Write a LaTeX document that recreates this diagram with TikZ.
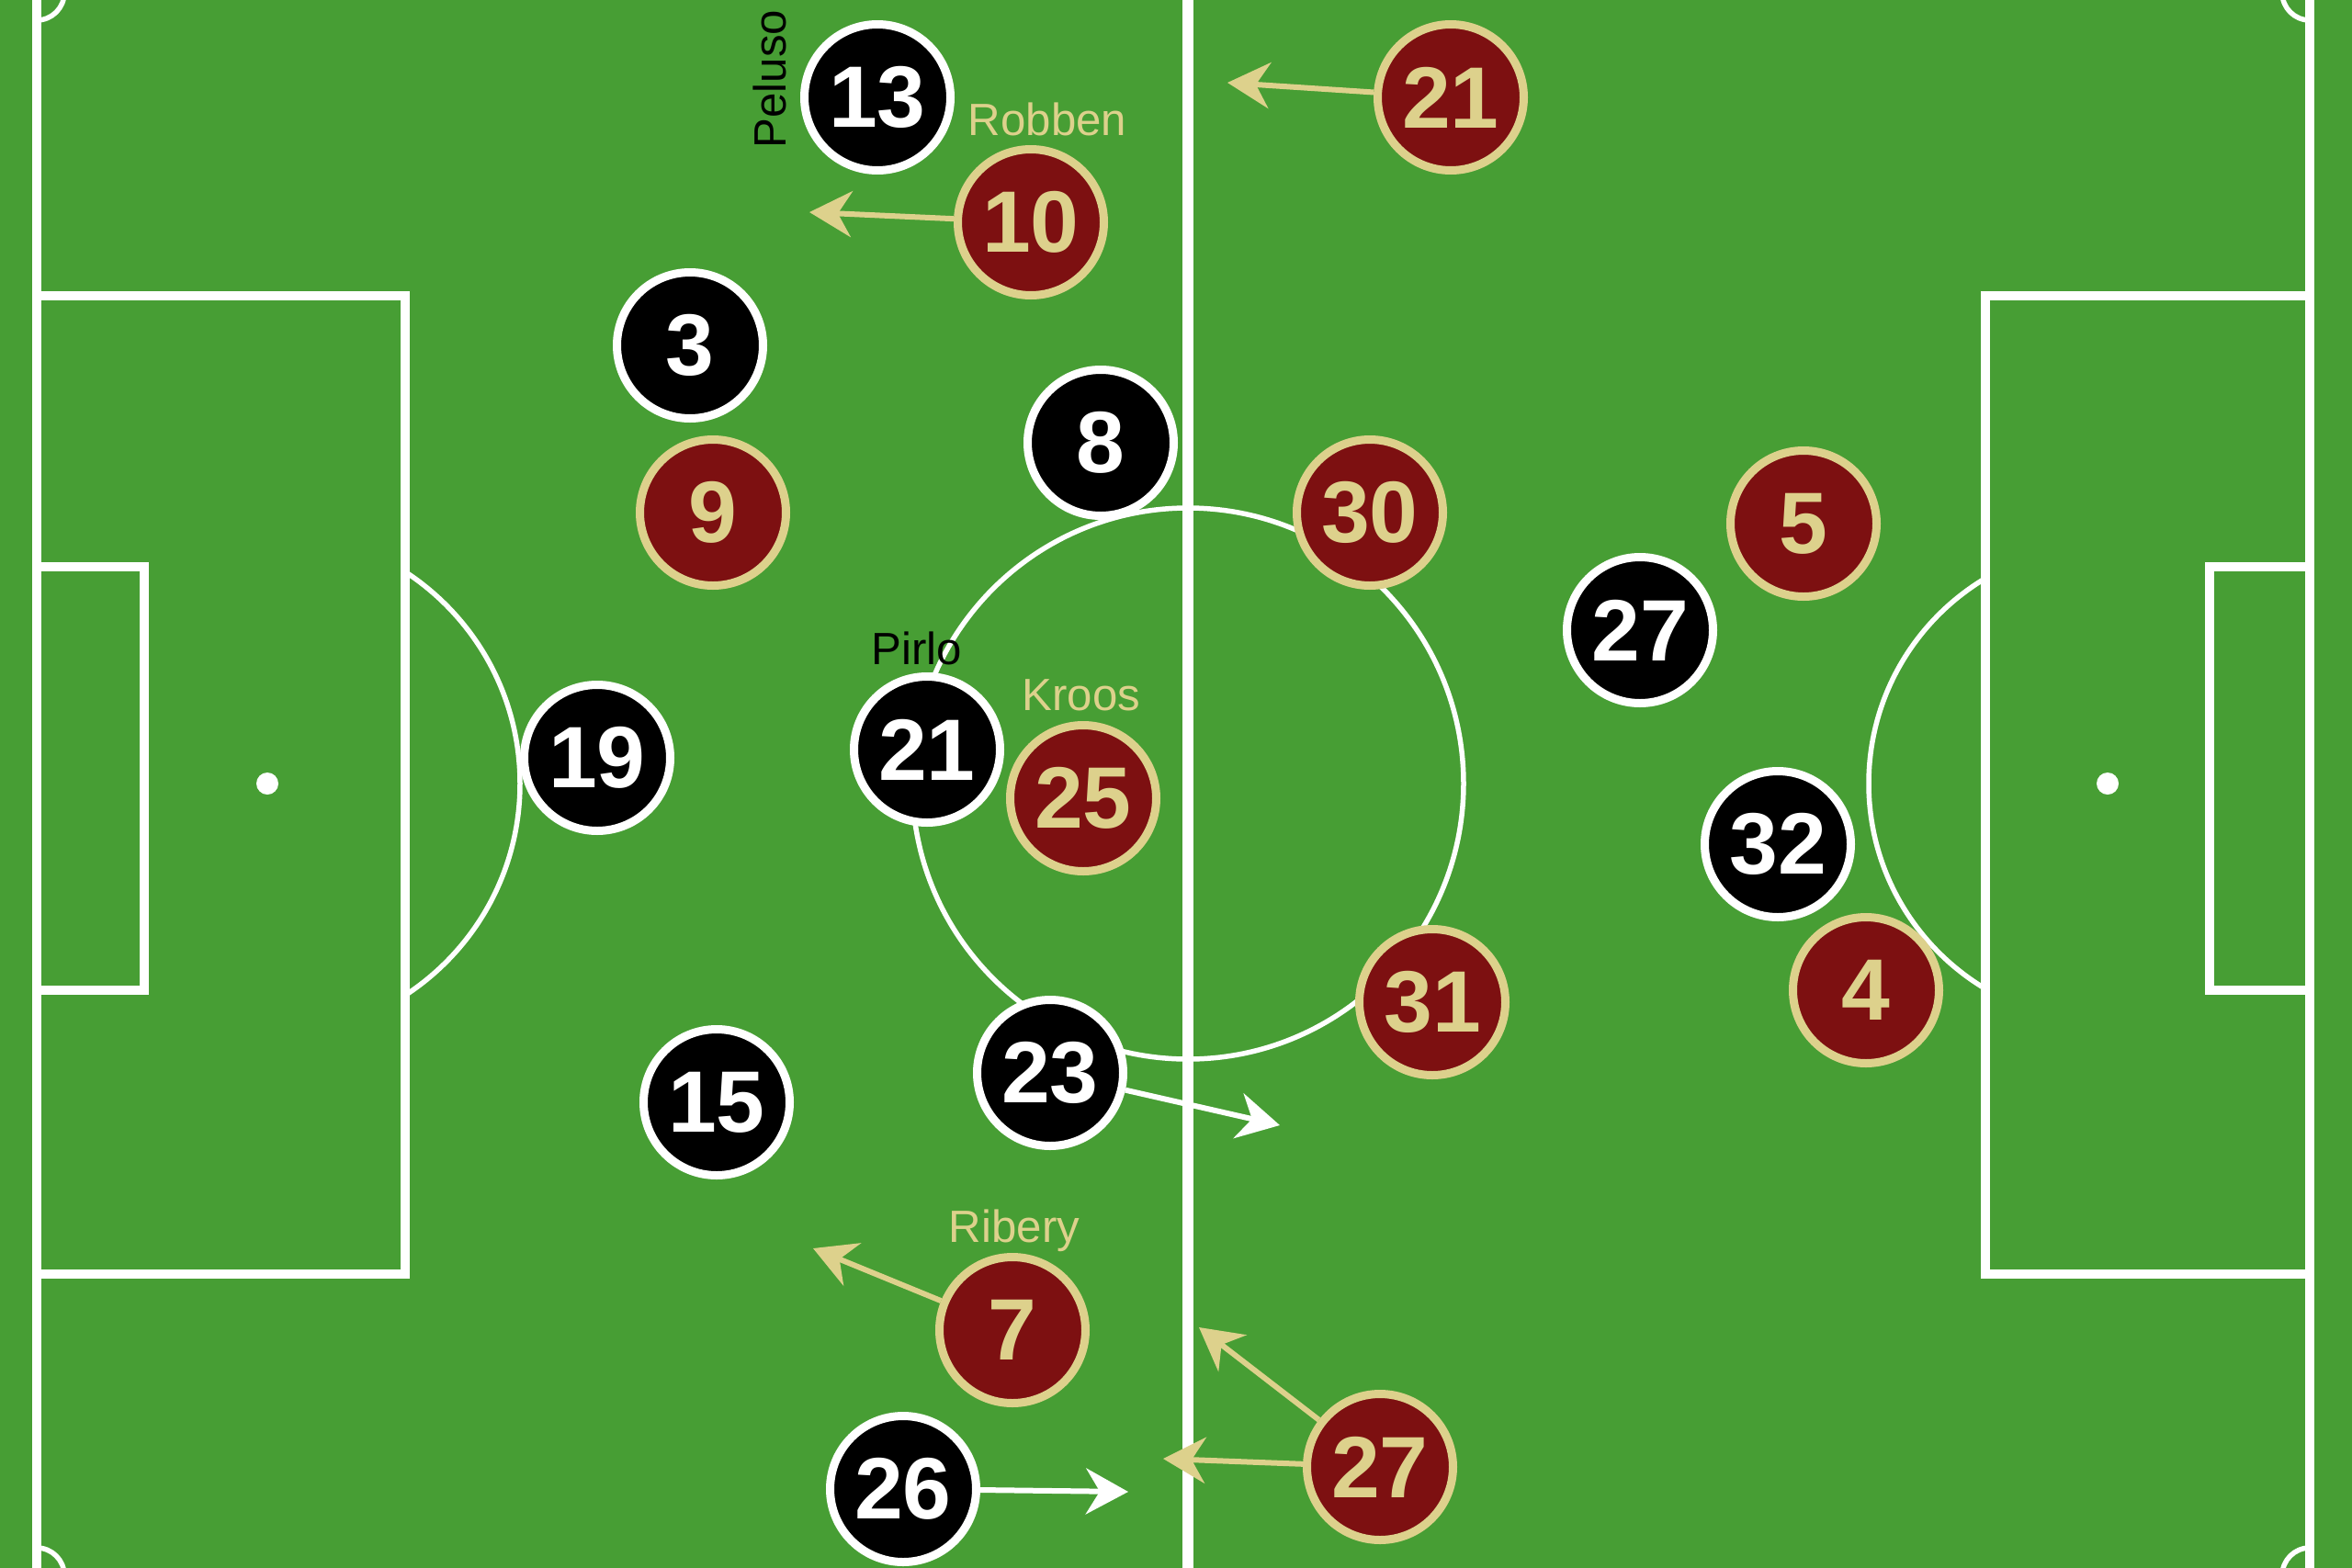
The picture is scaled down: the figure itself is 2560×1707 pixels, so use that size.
\documentclass[tikz,border=0pt]{standalone}
\usepackage{fontspec}
\setmainfont{Liberation Sans}
\usetikzlibrary{arrows.meta}

\definecolor{pitchgreen}{RGB}{71,158,52}
\definecolor{bayernred}{RGB}{125,16,17}
\definecolor{bayerngold}{RGB}{221,209,140}

\tikzset{
  pitchline/.style={white, line width=1mm},
  thinline/.style={white, line width=0.55mm},
  player/.style={circle, line width=0.9mm, minimum size=15.9mm, inner sep=0pt,
    font=\fontsize{27}{27}\selectfont\bfseries},
  blackplayer/.style={player, draw=white, fill=black, text=white},
  redplayer/.style={player, draw=bayerngold, fill=bayernred, text=bayerngold},
  namelabel/.style={font=\fontsize{14}{16}\selectfont, inner sep=0pt},
  whiterun/.style={white, line width=0.6mm, -{Stealth[length=4.6mm, width=5mm, inset=1.5mm]}},
  goldrun/.style={bayerngold, line width=0.6mm, -{Stealth[length=4.6mm, width=5mm, inset=1.5mm]}}
}

\begin{document}
\begin{tikzpicture}[x=0.1mm, y=-0.1mm]
    \fill[pitchgreen] (0,0) rectangle (2560,1707);
    \useasboundingbox (0,0) rectangle (2560,1707);

    % pitch markings
    \draw[pitchline] (40,-8) rectangle (2514,1715);
    \draw[pitchline, line width=1.2mm] (1293,-8) -- (1293,1715);
    \draw[pitchline] (40,322) -| (441,1387) -- (40,1387);
    \draw[pitchline] (40,617) -| (157,1078) -- (40,1078);
    \draw[pitchline] (2514,322) -| (2161,1387) -- (2514,1387);
    \draw[pitchline] (2514,617) -| (2405,1078) -- (2514,1078);
    \draw[thinline] (1293,853) circle (300);
    \begin{scope}
        \clip (441,0) rectangle (1293,1707);
        \draw[thinline] (291,853) circle (275);
    \end{scope}
    \begin{scope}
        \clip (1293,0) rectangle (2161,1707);
        \draw[thinline] (2294,853) circle (260);
    \end{scope}
    \begin{scope}
        \clip (40,-8) rectangle (2514,1715);
        \foreach \cx/\cy in {40/-8, 2514/-8, 40/1715, 2514/1715}
            \draw[thinline] (\cx,\cy) circle (30);
    \end{scope}
    \fill[white] (291,853) circle (12);
    \fill[white] (2294,853) circle (12);

    % black side
    \node[blackplayer] (b13) at (955,106) {13};
    \node[blackplayer] (b3) at (751,376) {3};
    \node[blackplayer] (b8) at (1198,482) {8};
    \node[blackplayer] (b19) at (650,825) {19};
    \node[blackplayer] (b21) at (1009,816) {21};
    \node[blackplayer] (b15) at (780,1200) {15};
    \node[blackplayer] (b23) at (1143,1168) {23};
    \node[blackplayer] (b26) at (983,1621) {26};
    \node[blackplayer] (b27) at (1785,686) {27};
    \node[blackplayer] (b32) at (1935,919) {32};

    % red side
    \node[redplayer] (r21) at (1579,106) {21};
    \node[redplayer] (r10) at (1122,242) {10};
    \node[redplayer] (r9) at (776,558) {9};
    \node[redplayer] (r30) at (1491,558) {30};
    \node[redplayer] (r25) at (1179,869) {25};
    \node[redplayer] (r31) at (1559,1091) {31};
    \node[redplayer] (r7) at (1102,1448) {7};
    \node[redplayer] (r27) at (1502,1597) {27};
    \node[redplayer] (r5) at (1963,570) {5};
    \node[redplayer] (r4) at (2031,1078) {4};

    % names
    \node[namelabel, rotate=90] (peluso) at (838,86) {Peluso};
    \node[namelabel, text=bayerngold] (robben) at (1140,130) {Robben};
    \node[namelabel] (pirlo) at (998,706) {Pirlo};
    \node[namelabel, text=bayerngold] (kroos) at (1177,757) {Kroos};
    \node[namelabel, text=bayerngold] (ribery) at (1104,1340) {Ribery};

    % runs
    \coordinate (r21to) at (1336,90);
    \coordinate (r10to) at (881,231);
    \coordinate (r7to) at (885,1359);
    \coordinate (r27up) at (1305,1445);
    \coordinate (r27in) at (1266,1588);
    \coordinate (b23to) at (1393,1225);
    \coordinate (b26to) at (1228,1624);
    \draw[goldrun] (r21) -- (r21to);
    \draw[goldrun] (r10) -- (r10to);
    \draw[goldrun] (r7) -- (r7to);
    \draw[goldrun] (r27) -- (r27up);
    \draw[goldrun] (r27) -- (r27in);
    \draw[whiterun] (b23) -- (b23to);
    \draw[whiterun] (b26) -- (b26to);
\end{tikzpicture}
\end{document}
